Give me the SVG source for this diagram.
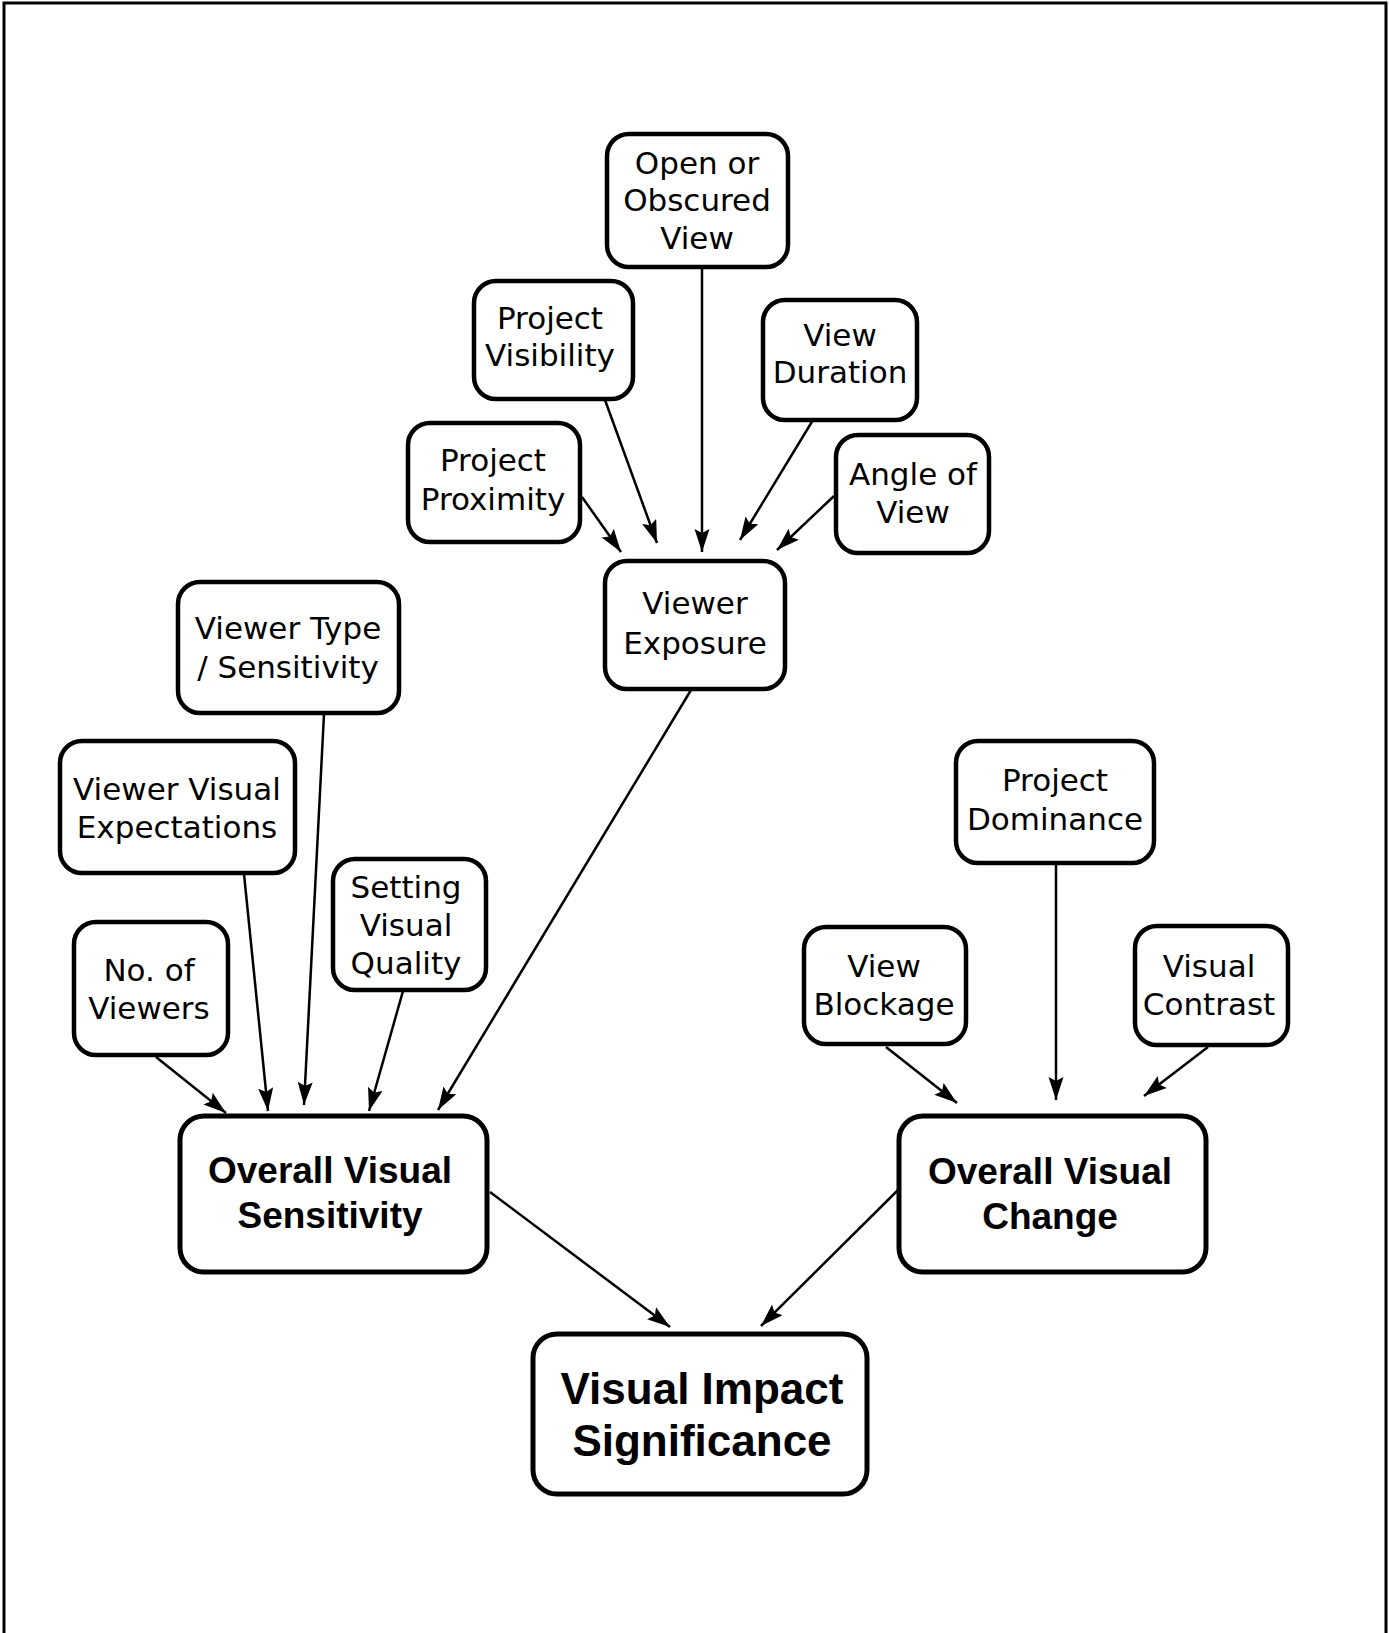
<svg xmlns="http://www.w3.org/2000/svg" width="1389" height="1633" viewBox="0 0 1389 1633">
<defs>
<style>
.box{fill:#fff;stroke:#000;stroke-width:4.5}
.big{fill:#fff;stroke:#000;stroke-width:5}
.t{font-family:"DejaVu Sans","Liberation Sans",sans-serif;font-size:31px;fill:#000;text-anchor:middle}
.b{font-family:"Liberation Sans","DejaVu Sans",sans-serif;font-weight:bold;font-size:37px;fill:#000;text-anchor:middle}
.bb{font-family:"Liberation Sans","DejaVu Sans",sans-serif;font-weight:bold;font-size:44px;fill:#000;text-anchor:middle}
.c{stroke:#000;stroke-width:2.5;fill:none;marker-end:url(#ah)}
</style>
<marker id="ah" markerUnits="userSpaceOnUse" markerWidth="26" markerHeight="16" refX="23" refY="7.5" orient="auto">
<path d="M0,0 L23,7.5 L0,15 L4,7.5 Z" fill="#000"/>
</marker>
</defs>
<rect width="1389" height="1633" fill="#fff"/>
<path d="M4,1640 L4,3 L1386,3 L1386,1640" fill="none" stroke="#000" stroke-width="3"/>

<g id="connectors">
<line class="c" x1="702" y1="267" x2="702" y2="552"/>
<line class="c" x1="605" y1="400" x2="657" y2="543"/>
<line class="c" x1="582" y1="497" x2="621" y2="552"/>
<line class="c" x1="813" y1="420" x2="740" y2="540"/>
<line class="c" x1="834" y1="496" x2="777" y2="550"/>
<line class="c" x1="691" y1="690" x2="438" y2="1110"/>
<line class="c" x1="324" y1="714" x2="304" y2="1105"/>
<line class="c" x1="244" y1="874" x2="268" y2="1111"/>
<line class="c" x1="156" y1="1057" x2="226" y2="1113"/>
<line class="c" x1="403" y1="991" x2="369" y2="1111"/>
<line class="c" x1="1056" y1="864" x2="1056" y2="1100"/>
<line class="c" x1="886" y1="1047" x2="957" y2="1103"/>
<line class="c" x1="1208" y1="1047" x2="1144" y2="1096"/>
<line class="c" x1="490" y1="1192" x2="670" y2="1327"/>
<line class="c" x1="898" y1="1190" x2="761" y2="1326"/>
</g>

<g id="open-view">
<rect class="box" x="607" y="134" width="181" height="133" rx="22"/>
<text class="t" x="697" y="174">Open or</text>
<text class="t" x="697" y="211">Obscured</text>
<text class="t" x="697" y="249">View</text>
</g>
<g id="project-visibility">
<rect class="box" x="474" y="281" width="159" height="118" rx="22"/>
<text class="t" x="550" y="329">Project</text>
<text class="t" x="550" y="366">Visibility</text>
</g>
<g id="view-duration">
<rect class="box" x="763" y="300" width="154" height="120" rx="22"/>
<text class="t" x="840" y="346">View</text>
<text class="t" x="840" y="383">Duration</text>
</g>
<g id="project-proximity">
<rect class="box" x="408" y="423" width="172" height="119" rx="22"/>
<text class="t" x="493" y="471">Project</text>
<text class="t" x="493" y="510">Proximity</text>
</g>
<g id="angle-of-view">
<rect class="box" x="836" y="435" width="153" height="118" rx="22"/>
<text class="t" x="913" y="485">Angle of</text>
<text class="t" x="913" y="523">View</text>
</g>
<g id="viewer-exposure">
<rect class="box" x="605" y="561" width="180" height="128" rx="22"/>
<text class="t" x="695" y="614">Viewer</text>
<text class="t" x="695" y="654">Exposure</text>
</g>
<g id="viewer-type">
<rect class="box" x="178" y="582" width="221" height="131" rx="22"/>
<text class="t" x="288" y="639">Viewer Type</text>
<text class="t" x="288" y="678">/ Sensitivity</text>
</g>
<g id="viewer-expectations">
<rect class="box" x="60" y="741" width="235" height="132" rx="22"/>
<text class="t" x="177" y="800">Viewer Visual</text>
<text class="t" x="177" y="838">Expectations</text>
</g>
<g id="setting-quality">
<rect class="box" x="333" y="859" width="153" height="131" rx="22"/>
<text class="t" x="406" y="898">Setting</text>
<text class="t" x="406" y="936">Visual</text>
<text class="t" x="406" y="974">Quality</text>
</g>
<g id="no-viewers">
<rect class="box" x="74" y="922" width="154" height="133" rx="22"/>
<text class="t" x="149" y="981">No. of</text>
<text class="t" x="149" y="1019">Viewers</text>
</g>
<g id="project-dominance">
<rect class="box" x="956" y="741" width="198" height="122" rx="22"/>
<text class="t" x="1055" y="791">Project</text>
<text class="t" x="1055" y="830">Dominance</text>
</g>
<g id="view-blockage">
<rect class="box" x="804" y="927" width="162" height="117" rx="22"/>
<text class="t" x="884" y="977">View</text>
<text class="t" x="884" y="1015">Blockage</text>
</g>
<g id="visual-contrast">
<rect class="box" x="1135" y="926" width="153" height="119" rx="22"/>
<text class="t" x="1209" y="977">Visual</text>
<text class="t" x="1209" y="1015">Contrast</text>
</g>
<g id="overall-sensitivity">
<rect class="big" x="180" y="1116" width="307" height="156" rx="24"/>
<text class="b" x="330" y="1183">Overall Visual</text>
<text class="b" x="330" y="1228">Sensitivity</text>
</g>
<g id="overall-change">
<rect class="big" x="899" y="1116" width="307" height="156" rx="24"/>
<text class="b" x="1050" y="1184">Overall Visual</text>
<text class="b" x="1050" y="1229">Change</text>
</g>
<g id="visual-impact">
<rect class="big" x="533" y="1334" width="334" height="160" rx="24"/>
<text class="bb" x="702" y="1404">Visual Impact</text>
<text class="bb" x="702" y="1456">Significance</text>
</g>
</svg>
